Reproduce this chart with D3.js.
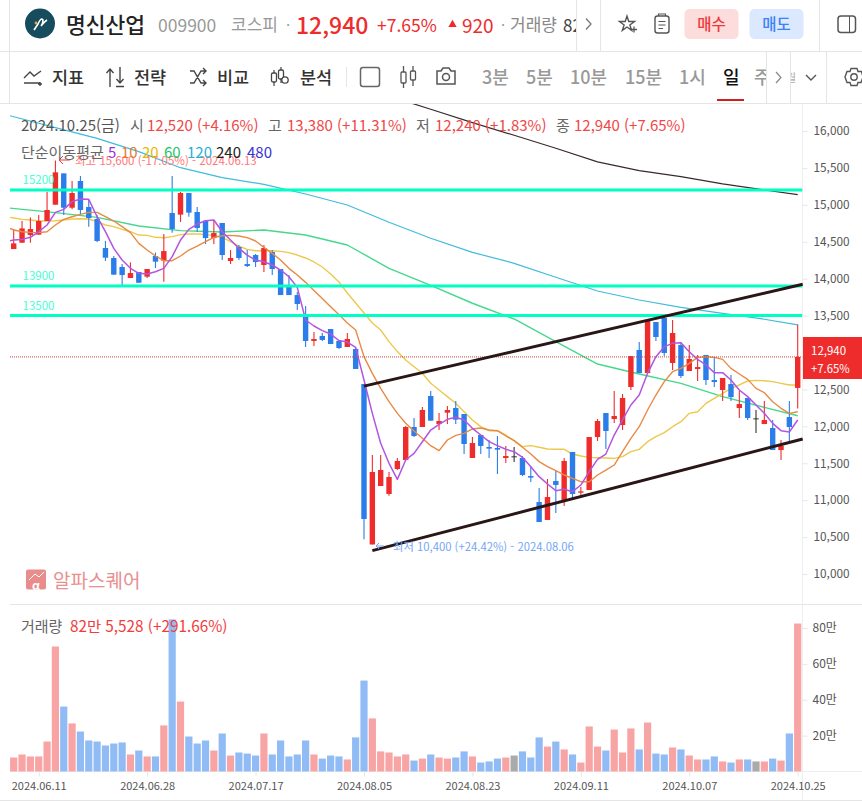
<!DOCTYPE html>
<html lang="ko">
<head>
<meta charset="utf-8">
<title>명신산업 009900</title>
<script src="https://cdn.jsdelivr.net/npm/d3@7"></script>
<style>
    html, body { margin: 0; padding: 0; background: #fff; overflow: hidden; }
    svg { display: block; }
    text { font-family: "Noto Sans CJK KR", "Noto Sans", sans-serif; }
    .axis .domain { display: none; }
    .axis line { stroke: #e6e6e6; }
    .axis text { fill: #555; }
</style>
</head>
<body>
<svg id="chart" width="862" height="802"></svg>
<script>
//////////////////////////
////  DATA (read off)  ////
//////////////////////////

    const dateTicks  = [3, 16, 29, 42, 55, 68, 81, 94]
    const dateLabels = ['2024.06.11', '2024.06.28', '2024.07.17', '2024.08.05', '2024.08.23', '2024.09.11', '2024.10.07', '2024.10.25']
    const priceTicks = [10000, 10500, 11000, 11500, 12000, 12500, 13500, 14000, 14500, 15000, 15500, 16000]    // 13,000 is hidden by the price tag
    const volumeTicks = [20, 40, 60, 80]     // unit: 만

    const opens = [
        14401, 14487, 14591, 14596, 14781, 15002, 15426, 14961, 15323, 14970, 14808, 14415, 14280, 14158, 14009, 14090,
        14027, 14307, 14243, 14889, 14867, 15160, 14903, 14785, 14550, 14754, 14239, 14429, 14198, 14320, 14185, 14361,
        14131, 13900, 13778, 13481, 13156, 13224, 13318, 13156, 13075, 13048, 12574, 10400, 11192, 11084, 11422, 11544,
        11991, 11991, 12411, 12032, 12185, 12248, 12167, 11571, 11883, 11720, 11707, 11571, 11594, 11571, 11327, 10975,
        10732, 11260, 11003, 11653, 11101, 11137, 11855, 12180, 12099, 12018, 12533, 13034, 12722, 13413, 13467, 12858,
        13101, 12749, 12776, 12966, 12627, 12492, 12573, 12248, 12384, 12108, 12031, 11977, 11679, 12126, 12520
    ]
    const highs = [
        14672, 14781, 14830, 14862, 15178, 15600, 15426, 15323, 15390, 15065, 14862, 14510, 14307, 14198, 14221, 14090,
        14131, 14356, 14605, 15390, 15174, 15160, 14970, 14794, 14794, 14754, 14388, 14456, 14388, 14334, 14456, 14388,
        14131, 14049, 13819, 13630, 13278, 13264, 13318, 13156, 13264, 13070, 12574, 11612, 11612, 11382, 11571, 12005,
        12113, 12262, 12479, 12181, 12276, 12343, 12167, 11856, 11883, 11815, 11869, 11734, 11720, 11598, 11463, 11165,
        11287, 11409, 11571, 11653, 11180, 11855, 12099, 12180, 12478, 12438, 12952, 13142, 13427, 13413, 13494, 13440,
        13142, 13101, 12966, 12966, 12939, 12655, 12695, 12478, 12384, 12221, 12343, 12086, 11815, 12343, 13380
    ]
    const lows = [
        14401, 14487, 14487, 14596, 14781, 15002, 14862, 14939, 14862, 14704, 14496, 14239, 14054, 13914, 14009, 13945,
        14009, 14144, 13959, 14623, 14767, 14840, 14632, 14469, 14469, 14253, 14198, 14253, 14158, 14158, 14090, 14049,
        13778, 13778, 13575, 13075, 13088, 13156, 13115, 13048, 13075, 12777, 10470, 10400, 11192, 11061, 11409, 11544,
        11856, 11991, 12077, 11950, 12032, 12032, 11625, 11571, 11625, 11571, 11355, 11504, 11517, 11327, 11246, 10704,
        10732, 10826, 10921, 11030, 11047, 11137, 11801, 11693, 12045, 11950, 12492, 12722, 12722, 13156, 12952, 12763,
        12655, 12749, 12614, 12560, 12533, 12343, 12343, 12113, 12086, 11910, 12031, 11679, 11544, 11801, 12240
    ]
    const closes = [
        14478, 14681, 14672, 14781, 14930, 15440, 14961, 15160, 14930, 14821, 14510, 14284, 14054, 14049, 14076, 13945,
        14131, 14230, 14374, 14672, 15160, 14894, 14686, 14550, 14618, 14320, 14280, 14280, 14171, 14225, 14415, 14131,
        13778, 13778, 13657, 13156, 13183, 13170, 13115, 13061, 13183, 12777, 10745, 11382, 11409, 11314, 11531, 11991,
        11869, 12221, 12077, 12072, 12221, 12090, 11761, 11774, 11734, 11698, 11684, 11598, 11594, 11341, 11305, 10704,
        11043, 11206, 11531, 11084, 11119, 11855, 12072, 11937, 12140, 12384, 12952, 12722, 13427, 13210, 12993, 13264,
        12682, 12912, 12803, 12627, 12600, 12655, 12397, 12302, 12113, 12108, 12086, 11679, 11738, 11991, 12940
    ]
    // Volume, in 만 shares
    const volumes = [
        7.8, 9.5, 8.4, 8.4, 16.7, 69.7, 36.2, 26.8, 22.3, 17.3, 16.7, 14.5, 15.6, 16.2, 9.5, 11.7,
        8.4, 8.4, 25.7, 84.8, 39, 19.5, 15.6, 17.3, 11.7, 21.2, 8.9, 10.6, 10, 8.9, 21.2, 9.5,
        17.3, 8.4, 9.5, 17.3, 9.5, 7.2, 8.9, 8.4, 6.7, 19, 50.7, 29.6, 11.2, 10.6, 8.4, 9.5,
        6.1, 7.2, 9.5, 7.8, 7.2, 7.8, 11.2, 8.4, 5, 5.6, 7.2, 7.8, 8.9, 11.2, 7.8, 19,
        13.9, 16.7, 12.3, 9.5, 5, 25.1, 13.9, 11.7, 23.4, 10.6, 24, 12.3, 27.3, 10, 9.5, 13.4,
        12.3, 8.9, 6.7, 6.7, 8.4, 5.6, 5, 6.7, 6.7, 5.6, 5.6, 7.2, 6.1, 21.2, 82.5
    ]

    // Moving averages read bar by bar. The first value is where the line enters the plot, left of the first candle
    const fastBars = [-0.45].concat(d3.range(95))
    const ma5 = [
        14514, 14523, 14532, 14560, 14636, 14727, 14898, 14939, 15043, 15079, 15074, 14839, 14636, 14410, 14252, 14140, 14072,
        14063, 14094, 14140, 14298, 14523, 14668, 14740, 14785, 14794, 14636, 14523, 14410, 14320, 14252, 14230, 14185,
        14117, 14027, 13882, 13440, 13359, 13296, 13251, 13161, 13142, 13070, 12628, 12176, 11770, 11499, 11282, 11544,
        11634, 11792, 11950, 12027, 12095, 12122, 12086, 11973, 11883, 11792, 11738, 11689, 11657, 11580, 11454, 11318,
        11219, 11129, 11147, 11115, 11205, 11386, 11553, 11625, 11882, 12086, 12289, 12424, 12718, 12943, 13079, 13124,
        13133, 13011, 12907, 12831, 12727, 12727, 12627, 12492, 12402, 12289, 12176, 12040, 11941, 11923, 12086
    ]
    const ma10 = [
        14681, 14659, 14636, 14627, 14623, 14636, 14727, 14803, 14839, 14871, 14898, 14898, 14839, 14781, 14704, 14623, 14478,
        14388, 14307, 14243, 14243, 14307, 14388, 14442, 14501, 14560, 14582, 14587, 14578, 14555, 14510, 14424, 14343,
        14252, 14140, 14049, 13950, 13840, 13730, 13620, 13510, 13400, 13305, 12944, 12718, 12515, 12334, 12176, 12041,
        11937, 11838, 11738, 11671, 11815, 11878, 11905, 11964, 11978, 11950, 11941, 11869, 11806, 11716, 11625, 11522,
        11454, 11400, 11341, 11295, 11250, 11250, 11341, 11408, 11476, 11657, 11837, 11995, 12221, 12424, 12605, 12740,
        12785, 12853, 12934, 12943, 12934, 12907, 12785, 12709, 12636, 12514, 12456, 12334, 12244, 12176, 12198
    ]
    const ma20 = [
        14830, 14821, 14803, 14794, 14781, 14781, 14785, 14794, 14808, 14812, 14808, 14772, 14727, 14704, 14668, 14636, 14591,
        14587, 14560, 14555, 14569, 14596, 14605, 14605, 14596, 14587, 14560, 14501, 14442, 14397, 14379, 14379, 14379,
        14370, 14352, 14320, 14280, 14226, 14158, 14063, 13955, 13806, 13671, 13535, 13400, 13305, 13147, 13012, 12899,
        12808, 12718, 12583, 12492, 12402, 12312, 12199, 12086, 11996, 11941, 11941, 11883, 11806, 11725, 11738, 11716,
        11693, 11689, 11689, 11625, 11598, 11580, 11575, 11571, 11566, 11589, 11657, 11688, 11792, 11860, 11914, 11995,
        12063, 12176, 12198, 12311, 12379, 12447, 12514, 12560, 12614, 12623, 12618, 12605, 12582, 12560, 12560
    ]

    // Slow averages read every fifth bar
    const slowBars  = [-0.45, 5, 10, 15, 20, 25, 30, 35, 40, 45, 50, 55, 60, 65, 70, 75, 80, 85, 90, 94]
    const ma60  = [14955, 14894, 14830, 14713, 14650, 14632, 14659, 14592, 14456, 14140, 13910, 13667, 13454, 13146, 12844, 12709, 12582, 12402, 12257, 12144]
    const ma120 = [16207, 16045, 15901, 15720, 15503, 15368, 15278, 15147, 14998, 14764, 14547, 14357, 14208, 14019, 13833, 13711, 13612, 13531, 13450, 13373]
    const ma240Bars = [45, 50, 55, 60, 65, 70, 75, 80, 85, 90, 94]
    const ma240 = [16474, 16294, 16113, 15942, 15766, 15581, 15463, 15381, 15283, 15201, 15138]

    // Drawn annotations
    const levelPrices = [15200, 13900, 13500]
    const channelUpper = [[42, 12545], [94.6, 13924]]
    const channelLower = [[43, 10316], [94.6, 11829]]
    const lastPrice = 12940


//////////////////////////
////  SCALES + LAYERS ////
//////////////////////////

    const svg = d3.select('#chart')
    const x = d3.scaleLinear().domain([0, 94]).range([13.7, 797.7])
    const y = d3.scaleLinear().domain([10000, 16000]).range([574, 131])
    const yVol = d3.scaleLinear().domain([0, 80]).range([771.5, 628])

    const colour = { red: '#ee2c2c', blue: '#2b7de9', doji: '#333', volRed: '#f9a4a4', volBlue: '#91bbf5', volGrey: '#aaa', ink: '#555', level: '#00ffc2' }
    const candleColour = (i) => closes[i] > opens[i] ? colour.red : closes[i] < opens[i] ? colour.blue : colour.doji
    const volColour = (i) => closes[i] > opens[i] ? colour.volRed : closes[i] < opens[i] ? colour.volBlue : colour.volGrey
    const bars = d3.range(opens.length)

    svg.append('defs').append('clipPath').attr('id', 'plot')
        .append('rect').attr('x', 10).attr('y', 104).attr('width', 792.5).attr('height', 500)

    // Small helper for all the chrome text
    const label = (px, py, str, fill, size, weight, parent) => (parent || svg).append('text')
        .attr('x', px).attr('y', py)
        .attr('dominant-baseline', 'central')
        .attr('fill', fill)
        .attr('font-size', size)
        .attr('font-weight', weight || 400)
        .text(str)
    const rule = (x1, y1, x2, y2, stroke) => svg.append('line')
        .attr('x1', x1).attr('y1', y1).attr('x2', x2).attr('y2', y2)
        .attr('stroke', stroke || '#e5e5e5').attr('stroke-width', 1)


//////////////////////////
////  PAGE FURNITURE  ////
//////////////////////////

    rule(0, 51.5, 862, 51.5)
    rule(0, 103.5, 862, 103.5)
    rule(9.5, 0, 9.5, 103)
    rule(576.5, 0, 576.5, 51)
    rule(600.5, 0, 600.5, 51)
    rule(819.5, 0, 819.5, 51)
    rule(766.5, 52, 766.5, 103)
    rule(790.5, 52, 790.5, 103)
    rule(826.5, 52, 826.5, 103)
    rule(346.5, 67, 346.5, 87)
    rule(10, 604.5, 862, 604.5)
    rule(0, 800.5, 862, 800.5)
    rule(802.5, 104, 802.5, 800, '#eeeeee')
    rule(10, 771.5, 862, 771.5, '#eeeeee')

    // Name bar
    svg.append('circle').attr('cx', 40).attr('cy', 23.5).attr('r', 15).attr('fill', '#164c5e')
    svg.append('path').attr('d', 'M34 30 L38 24 Q41 17 43 20 Q43 24 41 26 Q44 22 47 20').attr('fill', 'none').attr('stroke', '#fff').attr('stroke-width', 1.6)
    svg.append('circle').attr('cx', 36).attr('cy', 23).attr('r', 1.4).attr('fill', '#f0a040')
    label(66, 23.5, '명신산업', '#222', 21.5, 500)
    label(158, 24, '009900', '#999', 17.5)
    label(231, 23.5, '코스피', '#999', 17)
    label(286, 24, '·', '#999', 15)
    label(296, 24, '12,940', colour.red, 23, 500)
    label(377, 24, '+7.65%', colour.red, 17.5)
    svg.append('path').attr('d', d3.symbol(d3.symbolTriangle, 30)).attr('transform', 'translate(452.5,24.5)').attr('fill', colour.red)
    label(462, 24, '920', colour.red, 19)
    label(501, 24, '·', '#999', 15)
    label(510, 23.5, '거래량', '#888', 17)
    svg.append('clipPath').attr('id', 'volclip').append('rect').attr('x', 500).attr('y', 0).attr('width', 76).attr('height', 51)
    label(563, 24, '82', '#444', 17).attr('clip-path', 'url(#volclip)')
    svg.append('path').attr('d', 'M586 18.5 L591 24 L586 29.5').attr('fill', 'none').attr('stroke', '#777').attr('stroke-width', 1.3)

    svg.append('path').attr('d', d3.symbol(d3.symbolStar, 70)).attr('transform', 'translate(627,24)').attr('fill', 'none').attr('stroke', '#555').attr('stroke-width', 1.4)
    svg.append('path').attr('d', 'M631 29.5 H637 M634 26.5 V32.5').attr('stroke', '#555').attr('stroke-width', 1.3)
    svg.append('rect').attr('x', 655).attr('y', 16).attr('width', 14).attr('height', 17).attr('rx', 2.5).attr('fill', 'none').attr('stroke', '#555').attr('stroke-width', 1.4)
    svg.append('path').attr('d', 'M658.5 16 V14 H665.5 V16 M658.5 21.5 H665.5 M658.5 25 H665.5 M658.5 28.5 H663').attr('fill', 'none').attr('stroke', '#555').attr('stroke-width', 1.2)

    svg.append('rect').attr('x', 684.5).attr('y', 9).attr('width', 54).attr('height', 30).attr('rx', 5).attr('fill', '#fddcdc')
    label(711.5, 22.5, '매수', '#f0383a', 15.5, 500).attr('text-anchor', 'middle')
    svg.append('rect').attr('x', 749.5).attr('y', 9).attr('width', 54).attr('height', 30).attr('rx', 5).attr('fill', '#dbe8fd')
    label(776.5, 22.5, '매도', '#3b82f6', 15.5, 500).attr('text-anchor', 'middle')
    svg.append('rect').attr('x', 838).attr('y', 16).attr('width', 17.5).attr('height', 16.5).attr('rx', 3).attr('fill', 'none').attr('stroke', '#555').attr('stroke-width', 1.5)
    rule(849.5, 16, 849.5, 32, '#555')

    // Tool bar
    const toolIcon = 'none'
    svg.append('path').attr('d', 'M24 83 H40 M24 78 L30 72 L34 76 L41 71 M38 84 H42 M40 82 V86').attr('fill', toolIcon).attr('stroke', '#444').attr('stroke-width', 1.4)
    label(52, 76, '지표', '#333', 17.5, 500)
    svg.append('path').attr('d', 'M110 87 V69 M106.5 73 L110 69 L113.5 73 M120 67 V83 M116.5 79 L120 83 L123.5 79 M116 86.5 H124').attr('fill', toolIcon).attr('stroke', '#444').attr('stroke-width', 1.4)
    label(134, 76, '전략', '#333', 17.5, 500)
    svg.append('path').attr('d', 'M190 71 H194 L201 83 H206 M190 83 H194 L201 71 H206 M203 68 L206 71 L203 74 M203 80 L206 83 L203 86').attr('fill', toolIcon).attr('stroke', '#444').attr('stroke-width', 1.4)
    label(217, 76, '비교', '#333', 17.5, 500)
    svg.append('path').attr('d', 'M274 70 V86 M281 67 V83').attr('stroke', '#444').attr('stroke-width', 1.2)
    svg.append('rect').attr('x', 271.5).attr('y', 73).attr('width', 5).attr('height', 9).attr('rx', 1.5).attr('fill', '#fff').attr('stroke', '#444').attr('stroke-width', 1.3)
    svg.append('rect').attr('x', 278.5).attr('y', 70).attr('width', 5).attr('height', 9).attr('rx', 1.5).attr('fill', '#fff').attr('stroke', '#444').attr('stroke-width', 1.3)
    svg.append('circle').attr('cx', 285).attr('cy', 80).attr('r', 3.2).attr('fill', '#fff').attr('stroke', '#444').attr('stroke-width', 1.3)
    label(300, 76, '분석', '#333', 17.5, 500)
    svg.append('rect').attr('x', 360.5).attr('y', 67.5).attr('width', 19).attr('height', 19).attr('rx', 2.5).attr('fill', 'none').attr('stroke', '#666').attr('stroke-width', 1.5)
    svg.append('path').attr('d', 'M403.5 66 V88 M413 66 V86').attr('stroke', '#555').attr('stroke-width', 1.3)
    svg.append('rect').attr('x', 401).attr('y', 72).attr('width', 5).attr('height', 11).attr('rx', 1).attr('fill', '#fff').attr('stroke', '#555').attr('stroke-width', 1.3)
    svg.append('rect').attr('x', 410.5).attr('y', 71).attr('width', 5).attr('height', 9).attr('rx', 1).attr('fill', '#fff').attr('stroke', '#555').attr('stroke-width', 1.3)
    svg.append('path').attr('d', 'M437 71 H441 L443 68 H449 L451 71 H455 V84 H437 Z').attr('fill', 'none').attr('stroke', '#555').attr('stroke-width', 1.5)
    svg.append('circle').attr('cx', 446).attr('cy', 77).attr('r', 3.5).attr('fill', 'none').attr('stroke', '#555').attr('stroke-width', 1.5)

    label(482, 76, '3분', '#999', 18, 500)
    label(526, 76, '5분', '#999', 18, 500)
    label(570, 76, '10분', '#999', 18, 500)
    label(625, 76, '15분', '#999', 18, 500)
    label(679, 76, '1시', '#999', 18, 500)
    label(723, 76, '일', '#111', 18, 500)
    svg.append('clipPath').attr('id', 'weekclip').append('rect').attr('x', 750).attr('y', 52).attr('width', 16).attr('height', 50)
    label(754, 76, '주', '#999', 18, 500).attr('clip-path', 'url(#weekclip)')
    svg.append('rect').attr('x', 717).attr('y', 99).attr('width', 27).attr('height', 2).attr('fill', '#cf1f1f')
    svg.append('path').attr('d', 'M776 72 L781 77.5 L776 83').attr('fill', 'none').attr('stroke', '#888').attr('stroke-width', 1.2)
    svg.append('clipPath').attr('id', 'monthclip').append('rect').attr('x', 791).attr('y', 52).attr('width', 5).attr('height', 50)
    label(786, 77, '월', '#aaa', 11).attr('clip-path', 'url(#monthclip)')
    svg.append('path').attr('d', 'M806 75 L811 80 L816 75').attr('fill', 'none').attr('stroke', '#555').attr('stroke-width', 1.4)
    svg.append('circle').attr('cx', 854).attr('cy', 77).attr('r', 3.2).attr('fill', 'none').attr('stroke', '#555').attr('stroke-width', 1.4)
    svg.append('path').attr('d', 'M851 68.5 H857 L858 71.5 L861.5 71.5 L863 77 L861 82.5 H858 L857 85.5 H851 L850 82.5 H847 L845 77 L847 71.5 H850 Z').attr('fill', 'none').attr('stroke', '#555').attr('stroke-width', 1.4)

    // Watermark
    svg.append('rect').attr('x', 26).attr('y', 569.5).attr('width', 20).attr('height', 20).attr('rx', 2).attr('fill', '#e98c8c')
    svg.append('path').attr('d', 'M29 580 L35 574 L39 577 L44 572').attr('fill', 'none').attr('stroke', '#fff').attr('stroke-width', 1)
    label(36, 584, 'α', '#fff', 12, 700).attr('text-anchor', 'middle')
    label(53, 579, '알파스퀘어', '#e88f8f', 19)


//////////////////////////
////  PRICE PANE      ////
//////////////////////////

    const plot = svg.append('g').attr('clip-path', 'url(#plot)')
    const maLine = d3.line().x(d => x(d[0])).y(d => y(d[1]))
    const drawMA = (barIdx, values, stroke, width) => plot.append('path')
        .datum(values.map((v, i) => [barIdx[i], v]))
        .attr('d', maLine)
        .attr('fill', 'none')
        .attr('stroke', stroke)
        .attr('stroke-width', width)
        .attr('stroke-linejoin', 'round')

    // 1. Slow averages sit under the candles
    drawMA(slowBars, ma120, '#3fbcdc', 1.2)
    drawMA(ma240Bars, ma240, '#3a2a2a', 1.2)
    drawMA(slowBars, ma60, '#46d88c', 1.4)
    drawMA(fastBars, ma20, '#ecc94b', 1.4)

    // 2. Candles
    plot.selectAll('line.wick').data(bars).join('line')
        .attr('class', 'wick')
        .attr('x1', d => x(d)).attr('x2', d => x(d))
        .attr('y1', d => y(highs[d])).attr('y2', d => y(lows[d]))
        .attr('stroke', d => candleColour(d))
        .attr('stroke-width', 1.1)
    plot.selectAll('rect.body').data(bars).join('rect')
        .attr('class', 'body')
        .attr('x', d => x(d) - 2.7)
        .attr('width', 5.4)
        .attr('y', d => y(Math.max(opens[d], closes[d])))
        .attr('height', d => Math.max(1, Math.abs(y(opens[d]) - y(closes[d]))))
        .attr('fill', d => candleColour(d))

    // 3. Fast averages on top
    drawMA(fastBars, ma10, '#e88a45', 1.4)
    drawMA(fastBars, ma5, '#b455e0', 1.5)

    // 4. Horizontal levels, channel and the last price line
    plot.selectAll('line.level').data(levelPrices).join('line')
        .attr('class', 'level')
        .attr('x1', 10).attr('x2', 802.5)
        .attr('y1', d => y(d)).attr('y2', d => y(d))
        .attr('stroke', colour.level)
        .attr('stroke-width', 3)
    levelPrices.forEach((d, i) => {
        label(22.5, y(d) - (i === 2 ? 11 : 11.5), String(d), '#45ffd2', 11.5)
    })
    svg.selectAll('path.channel').data([channelUpper, channelLower]).join('path')
        .attr('class', 'channel')
        .attr('d', maLine)
        .attr('fill', 'none')
        .attr('stroke', '#2a1616')
        .attr('stroke-width', 3)
    plot.append('line')
        .attr('x1', 10).attr('x2', 802.5)
        .attr('y1', y(lastPrice)).attr('y2', y(lastPrice))
        .attr('stroke', '#c94444')
        .attr('stroke-width', 1)
        .attr('stroke-dasharray', '1 1')

    // 5. High and low notes
    svg.append('path').attr('d', 'M70 160 H59 M63 156 L59 160 L63 164').attr('fill', 'none').attr('stroke', '#f03a3a').attr('stroke-width', 1)
    label(75, 160, '최고 15,600 (-17.05%) - 2024.06.13', '#f77', 11.5)
    svg.append('path').attr('d', 'M384 546 H376 M379 543 L376 546 L379 549').attr('fill', 'none').attr('stroke', '#6fa3f5').attr('stroke-width', 1)
    label(393, 546, '최저 10,400 (+24.42%) - 2024.08.06', '#74a6f5', 11.3)

    // 6. Readout rows
    const headRed = '#f04848', headInk = '#666'
    label(21, 124, '2024.10.25(금)', '#555', 15)
    label(130, 124, '시', headInk, 15)
    label(147, 124, '12,520 (+4.16%)', headRed, 15)
    label(268, 124, '고', headInk, 15)
    label(287, 124, '13,380 (+11.31%)', headRed, 15)
    label(416, 124, '저', headInk, 15)
    label(435, 124, '12,240 (+1.83%)', headRed, 15)
    label(556, 124, '종', headInk, 15)
    label(574, 124, '12,940 (+7.65%)', headRed, 15)
    label(21, 151, '단순이동평균', headInk, 15)
    label(108, 151, '5', '#9b30d9', 15)
    label(121, 151, '10', '#e8792e', 15)
    label(142, 151, '20', '#e8b800', 15)
    label(164, 151, '60', '#1cc765', 15)
    label(187, 151, '120', '#1fb0d8', 15)
    label(216, 151, '240', '#222', 15)
    label(247, 151, '480', '#3a33d6', 15)

    // 7. Price axis and last price tag
    svg.append('g').attr('class', 'axis').attr('transform', 'translate(802.5,0)')
        .call(d3.axisRight(y).tickValues(priceTicks).tickSize(5).tickPadding(6).tickFormat(d3.format(',')))
        .call(g => g.selectAll('text').attr('font-size', 11.8).attr('font-family', '"Noto Sans CJK KR"'))
    svg.append('rect').attr('x', 803).attr('y', 337).attr('width', 59).attr('height', 42).attr('fill', colour.red)
    label(811, 350, '12,940', '#fff', 11.5)
    label(811, 368, '+7.65%', '#fff', 11.3)


//////////////////////////
////  VOLUME PANE     ////
//////////////////////////

    svg.append('g').selectAll('rect').data(bars).join('rect')
        .attr('x', d => x(d) - 3.6)
        .attr('width', 7.2)
        .attr('y', d => yVol(volumes[d]))
        .attr('height', d => yVol(0) - yVol(volumes[d]))
        .attr('fill', d => volColour(d))

    svg.append('g').attr('class', 'axis').attr('transform', 'translate(802.5,0)')
        .call(d3.axisRight(yVol).tickValues(volumeTicks).tickSize(5).tickPadding(5).tickFormat(d => `${d}만`))
        .call(g => g.selectAll('text').attr('font-size', 12).attr('font-family', '"Noto Sans CJK KR"'))

    svg.append('g').attr('class', 'axis').attr('transform', 'translate(0,771.5)')
        .call(d3.axisBottom(x).tickValues(dateTicks).tickSize(5).tickPadding(6).tickFormat((d, i) => dateLabels[i]))
        .call(g => g.selectAll('text').attr('font-size', 11).attr('font-family', '"Noto Sans CJK KR"'))

    label(21, 625, '거래량', headInk, 15)
    label(70, 625, '82만 5,528 (+291.66%)', '#f23c3c', 15.3)
</script>
</body>
</html>
